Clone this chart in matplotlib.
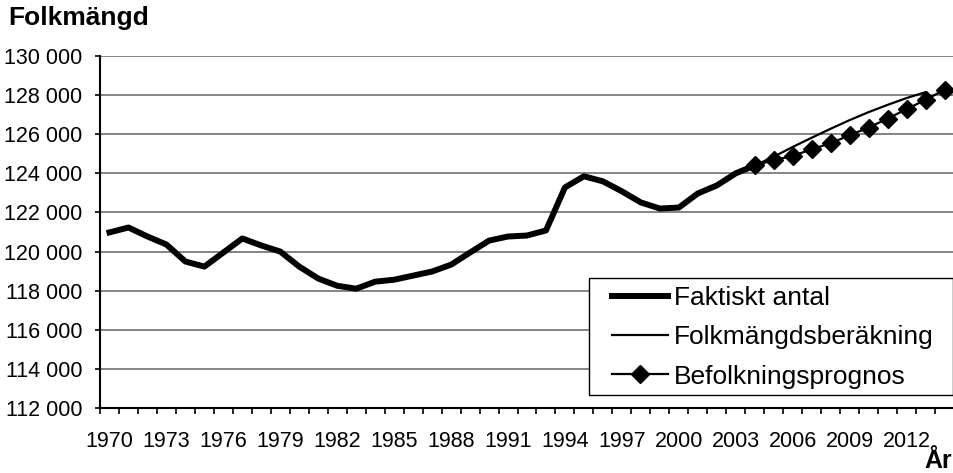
import numpy as np
import matplotlib.pyplot as plt
from matplotlib.patches import Rectangle

plt.rcParams['font.family'] = ['Liberation Sans', 'DejaVu Sans']

# Faktiskt antal 1970-2004
years_actual = list(range(1970, 2005))
actual = [120980, 121230, 120770, 120360, 119490, 119230, 119950, 120670, 120310, 120000,
          119230, 118620, 118250, 118100, 118460, 118560, 118770, 118980, 119330, 119950,
          120560, 120770, 120820, 121080, 123280, 123850, 123590, 123080, 122510, 122200,
          122250, 122970, 123380, 124000, 124400]

# Folkmängdsberäkning 2004-2013
years_calc = list(range(2004, 2014))
calc = [124400, 124850, 125350, 125820, 126280, 126720, 127130, 127500, 127850, 128150]

# Befolkningsprognos 2004-2014
years_prog = list(range(2004, 2015))
prog = [124410, 124670, 124890, 125230, 125540, 125950, 126340, 126800, 127280, 127760, 128270]

W, H = 954, 473
fig = plt.figure(figsize=(W / 100, H / 100), dpi=100)
ax = fig.add_axes([100 / W, 1 - 408 / H, 1 - 100 / W, (408 - 56) / H])

ax.plot(years_actual, actual, color='black', lw=4.3, solid_joinstyle='round',
        label='Faktiskt antal', zorder=3)
ax.plot(years_calc, calc, color='black', lw=1.6, label='Folkmängdsberäkning', zorder=3)
ax.plot(years_prog, prog, color='black', lw=1.6, marker='D', markersize=9,
        label='Befolkningsprognos', zorder=4)

ax.set_xlim(1969.5, 2014.5)
ax.set_ylim(112000, 130000)
ax.set_yticks(np.arange(112000, 130001, 2000))
ax.set_yticklabels([f'{v:,}'.replace(',', ' ') for v in range(112000, 130001, 2000)])
ax.set_xticks(range(1970, 2014, 3))
ax.set_xticks(np.arange(1969.5, 2014.6, 1), minor=True)
ax.tick_params(axis='x', which='major', length=0, pad=16.5, labelsize=15.5)
ax.tick_params(axis='x', which='minor', length=4.3, width=1.2, direction='out')
ax.tick_params(axis='y', length=3.6, width=1.2, pad=9, labelsize=15.5)

ax.grid(axis='y', color='#707070', lw=1.2)
ax.set_axisbelow(True)
for s in ['top', 'right']:
    ax.spines[s].set_visible(False)
for s in ['left', 'bottom']:
    ax.spines[s].set_linewidth(1.5)
    ax.spines[s].set_zorder(5)

fig.text(8 / W, 1 - 18 / H, 'Folkmängd', fontsize=19, fontweight='bold', va='center', ha='left')
fig.text(952 / W, 1 - 468 / H, 'År', fontsize=18, fontweight='bold', va='baseline', ha='right')

# legend box drawn separately so the padding matches
ax.add_patch(Rectangle((589 / W, 1 - 395 / H), (953 - 589) / W, (395 - 278) / H,
                       transform=fig.transFigure, facecolor='white', clip_on=False,
                       edgecolor='black', lw=1.0, zorder=6))
leg = ax.legend(loc='upper left', bbox_to_anchor=(612 / W, 1 - 286 / H),
                bbox_transform=fig.transFigure, fontsize=19, frameon=False,
                handlelength=2.12, handletextpad=0.23, labelspacing=0.58,
                borderpad=0, borderaxespad=0)
leg.set_zorder(7)

fig.savefig('out.png', dpi=100)
